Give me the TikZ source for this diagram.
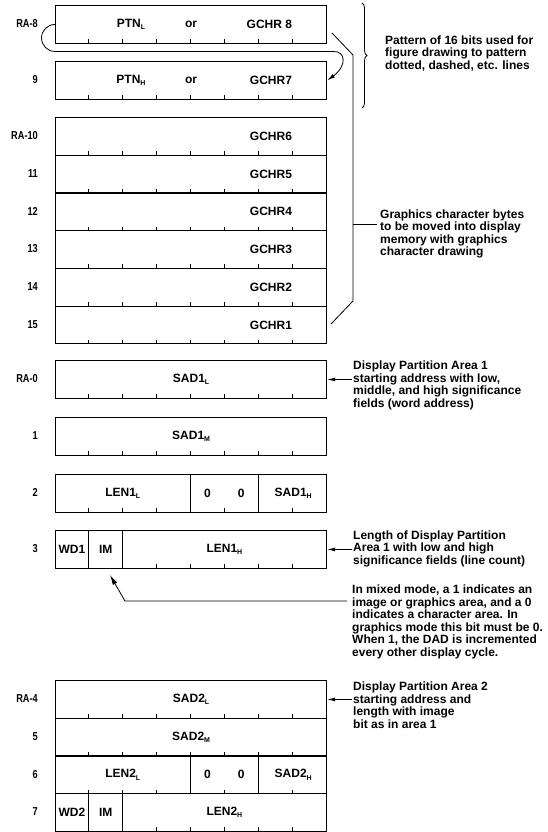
\documentclass[tikz,border=0pt]{standalone}
\usepackage{fontspec}
\setmainfont{Liberation Sans}
\newfontfamily\estrecha[FakeStretch=0.8]{Liberation Sans}
\newcommand{\sub}[1]{\raisebox{-2.5pt}{\fontsize{7}{7}\selectfont #1}}
\usetikzlibrary{arrows.meta,decorations.pathreplacing}

\begin{document}
\begin{tikzpicture}[x=1pt,y=1pt,
    registro/.style={draw, line width=1.2pt, minimum width=271pt, minimum height=37.7pt, inner sep=0pt, anchor=north west},
    campo/.style={font=\fontsize{12}{12}\selectfont\bfseries, inner sep=1pt},
    dir/.style={font=\estrecha\fontsize{11.5}{12}\selectfont\bfseries, anchor=east, inner sep=0pt},
    nota/.style={font=\fontsize{12}{12.5}\selectfont\bfseries, align=left, anchor=west, inner sep=1pt},
    divisor/.style={line width=1.2pt},
    trazo/.style={line width=0.8pt},
    flecha/.style={line width=0.8pt, -{Latex[length=8pt,width=4pt]}}
]

    % Marco fijo del dibujo
    \useasboundingbox (0,0) rectangle (548,-832);

    % 1. Registros: nombre, borde superior, direccion
    \foreach \n/\y/\d in {r8/5/RA-8, r9/61/9,
                          r10/117/RA-10, r11/154.7/11, r12/192.4/12, r13/230.1/13, r14/267.8/14, r15/305.5/15,
                          r0/360/RA-0, r1/417/1, r2/474/2, r3/530/3,
                          r4/680/RA-4, r5/717.7/5, r6/755.4/6, r7/793.1/7} {
        \node[registro] (\n) at (55,-\y) {};
        \node[dir] (d\n) at (38,-\y-18.85) {\d};
        % marcas de los bits en el borde inferior
        \foreach \k in {1,...,7}
            \draw[trazo] (55+\k*33.875,-\y-37.7) -- ++(0,3.5);
    }

    % 2. Contenido de RA-8 y RA-9 (patron o caracter grafico)
    \node[campo] (ptnl) at ([xshift=76pt]r8.west) {PTN\sub{L}};
    \node[campo] (or8) at (r8.center) {or};
    \node[campo, anchor=east] (g8) at ([xshift=-34pt]r8.east) {GCHR 8};
    \node[campo] (ptnh) at ([xshift=76pt]r9.west) {PTN\sub{H}};
    \node[campo] (or9) at (r9.center) {or};
    \node[campo, anchor=east] (g7) at ([xshift=-34pt]r9.east) {GCHR7};

    % 3. Bytes de caracter grafico
    \foreach \n/\g in {r10/6, r11/5, r12/4, r13/3, r14/2, r15/1}
        \node[campo, anchor=east] (g\g) at ([xshift=-34pt]\n.east) {GCHR\g};

    % 4. Area 1 de particion
    \node[campo] (sad1l) at (r0.center) {SAD1\sub{L}};
    \node[campo] (sad1m) at (r1.center) {SAD1\sub{M}};
    \draw[divisor] ([xshift=135.5pt]r2.north west) -- ([xshift=135.5pt]r2.south west);
    \draw[divisor] ([xshift=203.25pt]r2.north west) -- ([xshift=203.25pt]r2.south west);
    \node[campo] (len1l) at ([xshift=67.75pt]r2.west) {LEN1\sub{L}};
    \node[campo] (cero1a) at ([xshift=152.4pt]r2.west) {0};
    \node[campo] (cero1b) at ([xshift=186.3pt]r2.west) {0};
    \node[campo] (sad1h) at ([xshift=-34pt]r2.east) {SAD1\sub{H}};
    \draw[divisor] ([xshift=33.875pt]r3.north west) -- ([xshift=33.875pt]r3.south west);
    \draw[divisor] ([xshift=67.75pt]r3.north west) -- ([xshift=67.75pt]r3.south west);
    \node[campo] (wd1) at ([xshift=17pt]r3.west) {WD1};
    \node[campo] (im1) at ([xshift=50.8pt]r3.west) {IM};
    \node[campo] (len1h) at ([xshift=169.4pt]r3.west) {LEN1\sub{H}};

    % 5. Area 2 de particion
    \node[campo] (sad2l) at (r4.center) {SAD2\sub{L}};
    \node[campo] (sad2m) at (r5.center) {SAD2\sub{M}};
    \draw[divisor] ([xshift=135.5pt]r6.north west) -- ([xshift=135.5pt]r6.south west);
    \draw[divisor] ([xshift=203.25pt]r6.north west) -- ([xshift=203.25pt]r6.south west);
    \node[campo] (len2l) at ([xshift=67.75pt]r6.west) {LEN2\sub{L}};
    \node[campo] (cero2a) at ([xshift=152.4pt]r6.west) {0};
    \node[campo] (cero2b) at ([xshift=186.3pt]r6.west) {0};
    \node[campo] (sad2h) at ([xshift=-34pt]r6.east) {SAD2\sub{H}};
    \draw[divisor] ([xshift=33.875pt]r7.north west) -- ([xshift=33.875pt]r7.south west);
    \draw[divisor] ([xshift=67.75pt]r7.north west) -- ([xshift=67.75pt]r7.south west);
    \node[campo] (wd2) at ([xshift=17pt]r7.west) {WD2};
    \node[campo] (im2) at ([xshift=50.8pt]r7.west) {IM};
    \node[campo] (len2h) at ([xshift=169.4pt]r7.west) {LEN2\sub{H}};

    % 6. Notas de la derecha
    \node[nota] (tpat) at (384,-53.5) {Pattern of 16 bits used for\\figure drawing to pattern\\dotted, dashed, etc. lines};
    \node[nota] (tgra) at (379,-233.75) {Graphics character bytes\\to be moved into display\\memory with graphics\\character drawing};
    \node[nota] (tdp1) at (352,-385.2) {Display Partition Area 1\\starting address with low,\\middle, and high significance\\fields (word address)};
    \node[nota] (tlen) at (352,-548.85) {Length of Display Partition\\Area 1 with low and high\\significance fields (line count)};
    \node[nota] (tim) at (351,-622) {In mixed mode, a 1 indicates an\\image or graphics area, and a 0\\indicates a character area. In\\graphics mode this bit must be 0.\\When 1, the DAD is incremented\\every other display cycle.};
    \node[nota] (tdp2) at (352,-705.2) {Display Partition Area 2\\starting address and\\length with image\\bit as in area 1};

    % 7. Llave y corchete
    \draw[trazo, decorate, decoration={brace, amplitude=5pt}] (362,-3) -- (362,-108);
    \draw[trazo] (332,-33) -- (353,-55) -- (353,-301) -- (331,-324);
    \coordinate (gmarca) at (353,-224);
    \draw[trazo] (gmarca) -- ([xshift=-2pt]gmarca -| tgra.west);

    % 8. Flechas
    \draw[flecha] (r8.west) arc[start angle=90, end angle=270, radius=13.5]
        -- ++(278,0) .. controls (346,-50.85) and (347,-66) .. (r9.east);
    \draw[flecha] (r0.east -| tdp1.west) -- (r0.east);
    \draw[flecha] (r3.east -| tlen.west) -- (r3.east);
    \draw[flecha] (r4.east -| tdp2.west) -- (r4.east);
    \coordinate (imcodo) at (125,-601);
    \coordinate (impunta) at (110,-575);
    \draw[flecha, -{Latex[length=10pt,width=5pt]}] ([xshift=-4pt]imcodo -| tim.west) -- (imcodo) -- (impunta);

\end{tikzpicture}
\end{document}
